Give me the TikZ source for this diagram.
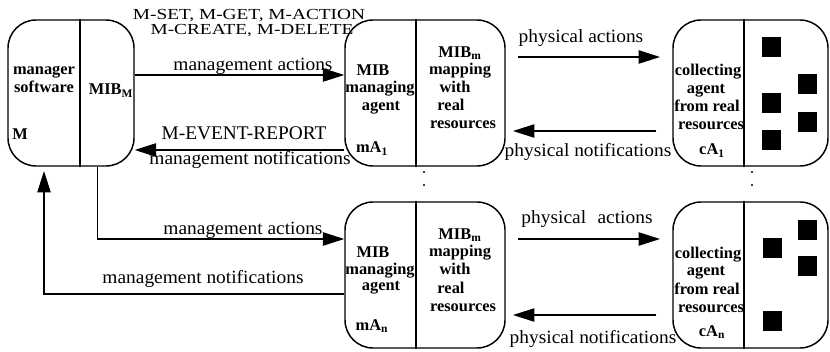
\documentclass[tikz,border=0pt]{standalone}
\usepackage{fontspec}
\setmainfont{Liberation Serif}
\newfontfamily\labfont[FakeStretch=1.04]{Liberation Serif}
\newfontfamily\cmdfont[FakeStretch=1.26]{Liberation Serif}
\usetikzlibrary{arrows.meta}
\begin{document}
\begin{tikzpicture}[x=0.75pt,y=-0.75pt,
  box/.style={draw, line width=1.1pt, rounded corners=21pt, inner sep=0pt, minimum height=109.5pt},
  bt/.style={font=\bfseries\fontsize{12.3}{14}\selectfont, inner sep=0pt, anchor=base},
  lab/.style={font=\labfont\fontsize{14}{16}\selectfont, inner sep=0pt, anchor=base},
  cmd/.style={font=\cmdfont\fontsize{11.5}{13}\selectfont, inner sep=0pt, anchor=base},
  evt/.style={font=\fontsize{14.5}{16}\selectfont, inner sep=0pt, anchor=base},
  arr/.style={-{Triangle[length=16pt,width=10pt]}, line width=0.9pt},
  ln/.style={line width=1.1pt}]
\useasboundingbox (0,0) rectangle (830,352);

% boxes
\node[box, minimum width=94.5pt] (M) at (71,93) {};
\node[box, minimum width=120pt] (A1) at (425,93) {};
\node[box, minimum width=116.25pt] (C1) at (750.5,93) {};
\node[box, minimum width=120pt] (An) at (425,275) {};
\node[box, minimum width=116.25pt] (Cn) at (750.5,275) {};

% dividers
\draw[ln] (M.north -| 80,0) -- (M.south -| 80,0);
\draw[ln] (A1.north -| 416,0) -- (A1.south -| 416,0);
\draw[ln] (C1.north -| 744,0) -- (C1.south -| 744,0);
\draw[ln] (An.north -| 416,0) -- (An.south -| 416,0);
\draw[ln] (Cn.north -| 744,0) -- (Cn.south -| 744,0);

% manager box text
\node[bt] (m1) at (44,75) {manager};
\node[bt] (m2) at (44,93) {software};
\node[bt] (m3) at (20,140) {M};
\node[bt] (m4) at (111,95) {MIB\textsubscript{M}};

% agent box texts
\foreach \dy/\s in {0/1,182/2}{
  \node[bt] (a1\s) at (373,75.5+\dy) {MIB};
  \node[bt] (b1\s) at (460,57.5+\dy) {MIB\textsubscript{m}};
  \node[bt] (b2\s) at (460,75+\dy) {mapping};
  \node[bt] (b3\s) at (455,93+\dy) {with};
  \node[bt] (b4\s) at (451,111+\dy) {real};
  \node[bt] (b5\s) at (463,129+\dy) {resources};
  \node[bt] (c1\s) at (708,76+\dy) {collecting};
  \node[bt] (c2\s) at (706,94+\dy) {agent};
  \node[bt] (c3\s) at (707,112+\dy) {from real};
  \node[bt] (c4\s) at (711,130+\dy) {resources};
}
\node[bt] (a21) at (380,93) {managing};
\node[bt] (a31) at (381,111) {agent};
\node[bt] (a41) at (372,153) {mA\textsubscript{1}};
\node[bt] (c51) at (712,155) {cA\textsubscript{1}};
\node[bt] (a22) at (380,274) {managing};
\node[bt] (a32) at (381,291) {agent};
\node[bt] (a42) at (372,330) {mA\textsubscript{n}};
\node[bt] (c52) at (712,336) {cA\textsubscript{n}};

% squares
\foreach \x/\y in {771/47,807/84,771/103,807/122,771/140,772/248,807/230,807/266,772/321}
  \fill (\x-9.5,\y-10) rectangle (\x+9.5,\y+10);

% dots
\foreach \x in {424,752}{
  \fill (\x,172) circle[radius=0.9pt];
  \fill (\x,185) circle[radius=0.9pt];
}

% management arrows
\draw[arr] (M.east |- 0,75) -- (A1.west |- 0,75);
\draw[arr] (A1.west |- 0,150) -- (M.east |- 0,150);
\draw[arr] (M.south -| 97.5,0) |- (An.west |- 0,239);
\coordinate (up) at (44,171);
\draw[arr] (An.west |- 0,294) -| (up);

% physical arrows
\coordinate (p1a) at (518,57);  \coordinate (p1b) at (660,57);
\coordinate (p2a) at (656,131); \coordinate (p2b) at (513,131);
\coordinate (p3a) at (518,239); \coordinate (p3b) at (660,239);
\coordinate (p4a) at (656,315); \coordinate (p4b) at (513,315);
\draw[arr] (p1a) -- (p1b);
\draw[arr] (p2a) -- (p2b);
\draw[arr] (p3a) -- (p3b);
\draw[arr] (p4a) -- (p4b);

% labels
\node[cmd] (l1) at (249,20) {M-SET, M-GET, M-ACTION};
\node[cmd] (l2) at (252,35) {M-CREATE, M-DELETE};
\node[lab] (l3) at (253,71) {management actions};
\node[evt] (l4) at (244,140) {M-EVENT-REPORT};
\node[lab] (l5) at (250,165) {management notifications};
\node[lab] (l6) at (581,43) {physical actions};
\node[lab] (l7) at (588,157) {physical notifications};
\node[lab] (l8) at (243,235) {management actions};
\node[lab] (l9) at (203,283) {management notifications};
\node[lab] (l10) at (587,224) {physical\hspace{0.35em} actions};
\node[lab] (l11) at (593,343) {physical notifications};
\end{tikzpicture}
\end{document}
